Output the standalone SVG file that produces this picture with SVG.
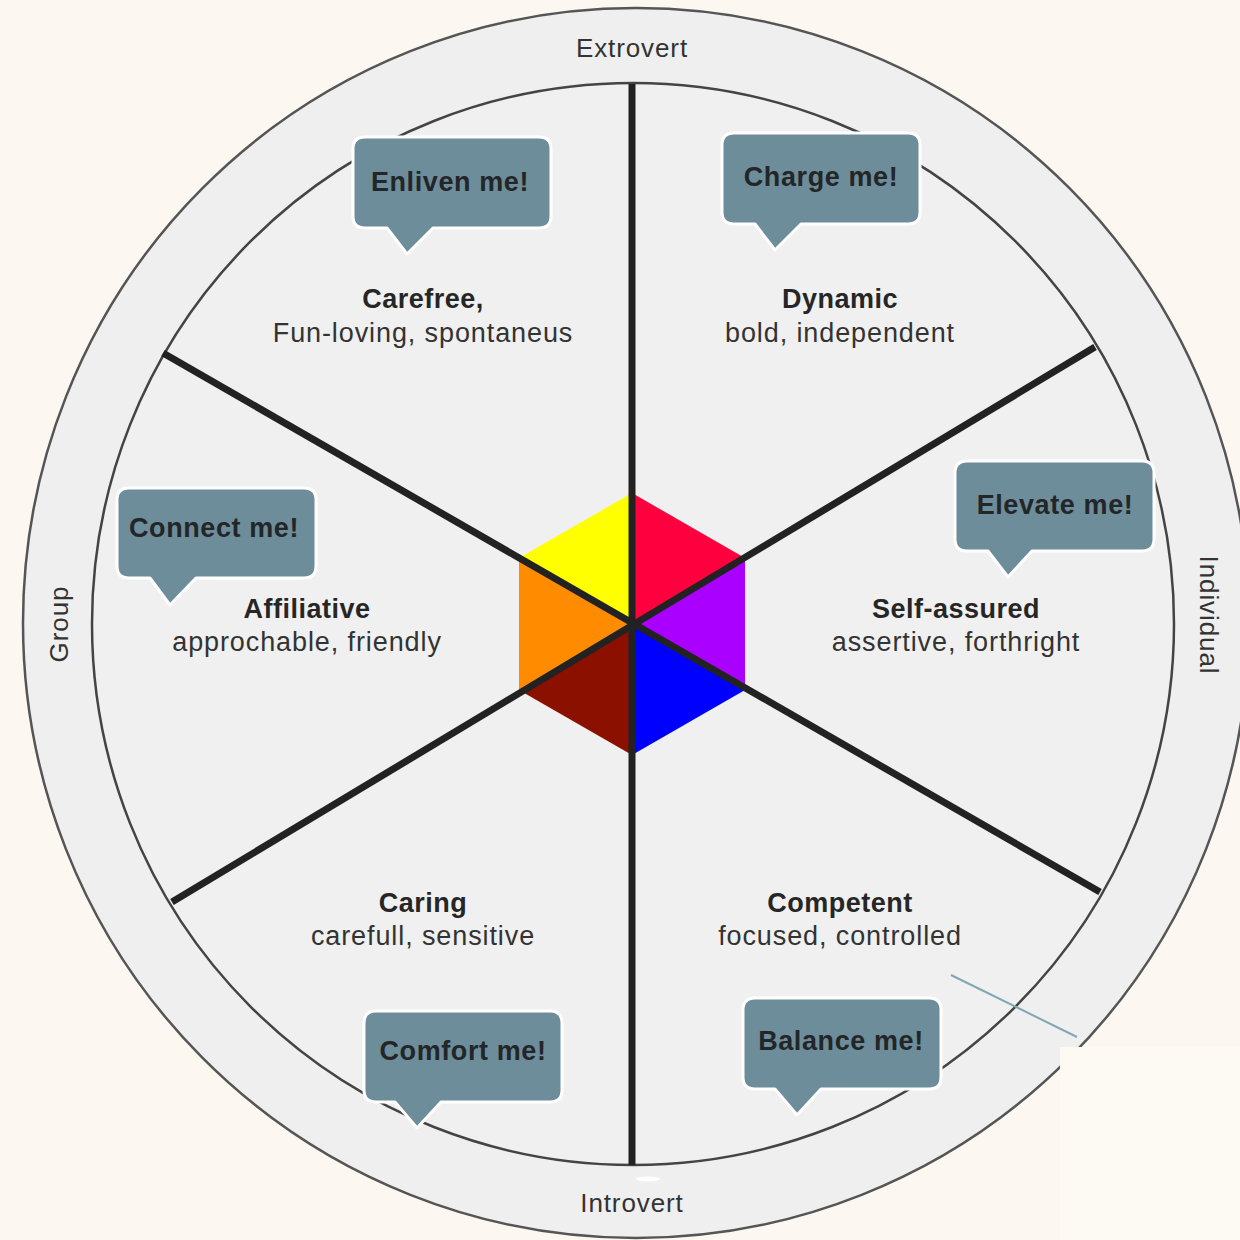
<svg xmlns="http://www.w3.org/2000/svg" width="1240" height="1240" viewBox="0 0 1240 1240">
<style>
.bubble{fill:#6d8d9a;stroke:#ffffff;stroke-width:3;stroke-linejoin:round}
.btxt{font-family:"Liberation Sans",Arial,sans-serif;font-weight:bold;font-size:27px;letter-spacing:0.6px;fill:#232628;text-anchor:middle}
.h{font-family:"Liberation Sans",Arial,sans-serif;font-weight:bold;font-size:27px;letter-spacing:0.5px;fill:#262626;text-anchor:middle}
.s{font-family:"Liberation Sans",Arial,sans-serif;font-size:27px;letter-spacing:0.9px;fill:#333333;text-anchor:middle}
.ring{font-family:"Liberation Sans",Arial,sans-serif;font-size:26px;letter-spacing:0.9px;fill:#333333;text-anchor:middle}
.div{stroke:#222222;stroke-width:7;stroke-linecap:butt}
</style>
<rect width="1240" height="1240" fill="#fcf8f1"/>
<g id="ring">
<ellipse cx="636" cy="623" rx="613" ry="615" fill="#efefef" stroke="#555555" stroke-width="2.5"/>
<circle cx="633" cy="624" r="541" fill="#f0f0f0" stroke="#444444" stroke-width="2.5"/>
<ellipse cx="648" cy="1179" rx="12" ry="2.5" fill="#ffffff"/>
<rect x="1060" y="1047" width="180" height="193" fill="#fdfaf4"/>
<line x1="951" y1="975" x2="1077" y2="1037" stroke="#7fa7b3" stroke-width="2"/>
<text class="ring" x="632" y="57">Extrovert</text>
<text class="ring" x="632" y="1212">Introvert</text>
<text class="ring" transform="translate(68,624) rotate(-90)">Group</text>
<text class="ring" transform="translate(1200,615) rotate(90)">Individual</text>
</g>
<g id="hexagon">
<polygon points="632,624 632,493 745,558" fill="#ff003f"/>
<polygon points="632,624 745,558 745,690" fill="#aa00ff"/>
<polygon points="632,624 745,690 632,755" fill="#0000ff"/>
<polygon points="632,624 632,755 519,690" fill="#8b1000"/>
<polygon points="632,624 519,690 519,558" fill="#ff8c00"/>
<polygon points="632,624 519,558 632,493" fill="#ffff00"/>
</g>
<g id="connectors">
<line class="div" x1="632" y1="84" x2="632" y2="1165"/>
<line class="div" x1="163" y1="353" x2="1100" y2="892"/>
<line class="div" x1="1095" y1="347" x2="172" y2="902"/>
</g>
<g id="carefree">
<path class="bubble" d="M365,137 H539 Q551,137 551,149 V216 Q551,228 539,228 H433 L407,254 L387,228 H365 Q353,228 353,216 V149 Q353,137 365,137 Z"/>
<text class="btxt" x="450" y="190.5">Enliven me!</text>
<text class="h" x="423" y="308">Carefree,</text>
<text class="s" x="423" y="342">Fun-loving, spontaneus</text>
</g>
<g id="dynamic">
<path class="bubble" d="M734,133 H908 Q920,133 920,145 V212 Q920,224 908,224 H801 L775,250 L755,224 H734 Q722,224 722,212 V145 Q722,133 734,133 Z"/>
<text class="btxt" x="821" y="185.5">Charge me!</text>
<text class="h" x="840" y="308">Dynamic</text>
<text class="s" x="840" y="342">bold, independent</text>
</g>
<g id="selfassured">
<path class="bubble" d="M967,461 H1142 Q1154,461 1154,473 V539 Q1154,551 1142,551 H1032 L1008,577 L988,551 H967 Q955,551 955,539 V473 Q955,461 967,461 Z"/>
<text class="btxt" x="1055" y="513.5">Elevate me!</text>
<text class="h" x="956" y="618">Self-assured</text>
<text class="s" x="956" y="651">assertive, forthright</text>
</g>
<g id="affiliative">
<path class="bubble" d="M129,488 H304 Q316,488 316,500 V566 Q316,578 304,578 H196 L170,605 L150,578 H129 Q117,578 117,566 V500 Q117,488 129,488 Z"/>
<text class="btxt" x="214" y="536.5">Connect me!</text>
<text class="h" x="307" y="618">Affiliative</text>
<text class="s" x="307" y="651">approchable, friendly</text>
</g>
<g id="caring">
<path class="bubble" d="M376,1011 H550 Q562,1011 562,1023 V1090 Q562,1102 550,1102 H441 L417,1128 L395,1102 H376 Q364,1102 364,1090 V1023 Q364,1011 376,1011 Z"/>
<text class="btxt" x="463" y="1059.5">Comfort me!</text>
<text class="h" x="423" y="912">Caring</text>
<text class="s" x="423" y="945">carefull, sensitive</text>
</g>
<g id="competent">
<path class="bubble" d="M755,998 H929 Q941,998 941,1010 V1077 Q941,1089 929,1089 H821 L797,1115 L775,1089 H755 Q743,1089 743,1077 V1010 Q743,998 755,998 Z"/>
<text class="btxt" x="841" y="1049.5">Balance me!</text>
<text class="h" x="840" y="912">Competent</text>
<text class="s" x="840" y="945">focused, controlled</text>
</g>
</svg>
